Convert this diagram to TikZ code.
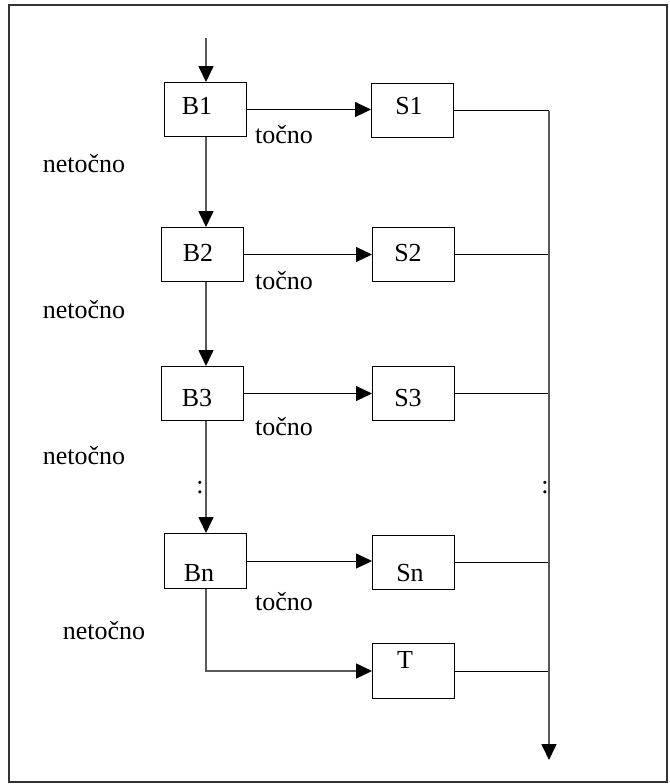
\documentclass[tikz,border=0pt]{standalone}
\usepackage{fontspec}
\setmainfont{Liberation Serif}
\usetikzlibrary{arrows.meta}
\begin{document}
\begin{tikzpicture}[x=0.5pt,y=-0.5pt,
  box/.style={draw=black,line width=0.5pt,anchor=north west,inner sep=0pt,minimum width=41pt,minimum height=27pt},
  txt/.style={inner sep=0pt,anchor=base,font=\fontsize{13}{15}\selectfont},
  vline/.style={draw=black!65,line width=0.8pt},
  hline/.style={draw=black,line width=0.5pt},
  tip/.style={-{Triangle[length=8pt,width=7.5pt,black]}}]
\useasboundingbox (0,0) rectangle (670,784);
\draw[line width=0.8pt,black!80] (9,5) rectangle (667,782);

% boxes
\node[box] (B1) at (164,82) {};
\node[box] (S1) at (371,83) {};
\node[box] (B2) at (161,227) {};
\node[box] (S2) at (372,227) {};
\node[box] (B3) at (161,366) {};
\node[box] (S3) at (372,366) {};
\node[box,minimum height=27.5pt] (Bn) at (164,533) {};
\node[box,minimum height=27pt] (Sn) at (372,535) {};
\node[box,minimum height=27.5pt] (T) at (372,643) {};

% box texts
\node[txt] (tB1) at (197,114) {B1};
\node[txt] (tS1) at (409,114) {S1};
\node[txt] (tB2) at (198,261) {B2};
\node[txt] (tS2) at (408,261) {S2};
\node[txt] (tB3) at (197,406) {B3};
\node[txt] (tS3) at (408,406) {S3};
\node[txt] (tBn) at (199,581) {Bn};
\node[txt] (tSn) at (410,581) {Sn};
\node[txt] (tT) at (405,668) {T};

% labels
\node[txt] (c1) at (284,143) {točno};
\node[txt] (c2) at (284,289) {točno};
\node[txt] (c3) at (284,435) {točno};
\node[txt] (c4) at (284,610) {točno};
\node[txt] (n1) at (84,172) {netočno};
\node[txt] (n2) at (84,318) {netočno};
\node[txt] (n3) at (84,464) {netočno};
\node[txt] (n4) at (104,639) {netočno};
\node[txt] (d1) at (200,493) {:};
\node[txt] (d2) at (545,493) {:};

% coordinates
\coordinate (in) at (206,38);
\coordinate (R) at (549,760);

% left column
\draw[vline,tip] (in) -- (in |- B1.north);
\draw[vline,tip] (in |- B1.south) -- (in |- B2.north);
\draw[vline,tip] (in |- B2.south) -- (in |- B3.north);
\draw[vline,tip] (in |- B3.south) -- (in |- Bn.north);
\draw[vline,tip] (in |- Bn.south) |- (T.west);

% horizontal arrows
\draw[hline,tip] (B1.east) -- (B1.east -| S1.west);
\draw[hline,tip] (B2.east) -- (B2.east -| S2.west);
\draw[hline,tip] (B3.east) -- (B3.east -| S3.west);
\draw[hline,tip] (Bn.east) -- (Bn.east -| Sn.west);

% outputs
\draw[hline] (S1.east) -- (S1.east -| R);
\draw[hline] (S2.east) -- (S2.east -| R);
\draw[hline] (S3.east) -- (S3.east -| R);
\draw[hline] (Sn.east) -- (Sn.east -| R);
\draw[hline] (T.east) -- (T.east -| R);
\draw[vline,tip] (S1.east -| R) -- (R);
\end{tikzpicture}
\end{document}
